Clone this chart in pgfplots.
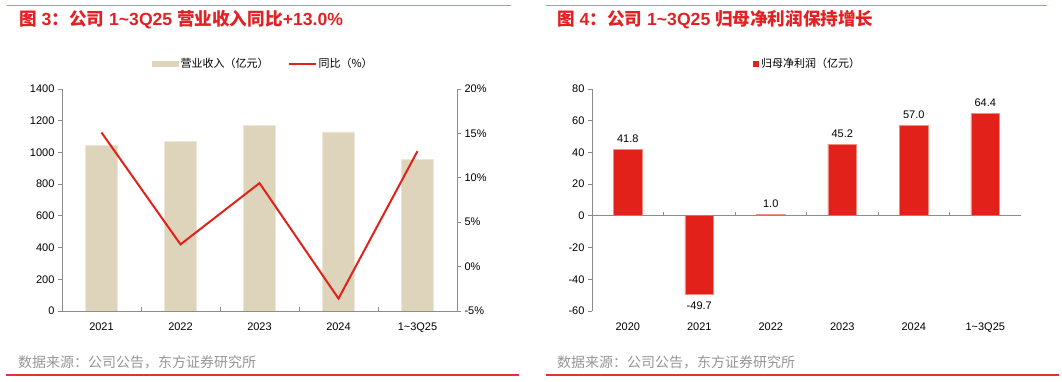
\documentclass[border=0pt]{standalone}
\usepackage{fontspec}
\setmainfont{Liberation Sans}
\newfontfamily\cjk{Noto Sans CJK SC}
\usepackage{pgfplots}
\pgfplotsset{compat=1.18}
\definecolor{beige}{RGB}{221,212,187}
\definecolor{beigeedge}{RGB}{236,230,214}
\definecolor{barred}{RGB}{226,34,26}
\definecolor{barrededge}{RGB}{242,140,130}
\definecolor{linered}{RGB}{226,34,26}
\definecolor{titlered}{RGB}{228,32,34}
\definecolor{toplinec}{RGB}{238,130,128}
\definecolor{botlinec}{RGB}{228,50,50}
\definecolor{footgray}{RGB}{150,150,150}
\definecolor{axisgray}{RGB}{140,140,140}
\pgfplotsset{
  common/.style={
    scale only axis, anchor=south west, height=222pt,
    axis line style={-, axisgray, line width=0.8pt},
    tick align=outside, tick style={axisgray, line width=0.8pt}, major tick length=4pt,
    ticklabel style={font=\fontsize{11}{13}\selectfont, text=black},
    /pgf/number format/assume math mode=true,
    /pgf/number format/1000 sep={},
    x tick label style={yshift=-4pt},
    major x tick style={draw=none},
    legend style={draw=none, fill=none, legend columns=-1, inner sep=0pt,
      font=\cjk\fontsize{11}{13}\selectfont, cells={anchor=west},
      /tikz/every even column/.append style={column sep=17pt}},
  }
}
\begin{document}
\begin{tikzpicture}
\path[use as bounding box] (0pt,0pt) rectangle (1062pt,382pt);
% header lines and titles
\draw[toplinec, line width=1.6pt] (7pt,376.3pt) -- (511pt,376.3pt);
\draw[toplinec, line width=1.6pt] (546pt,376.3pt) -- (1047pt,376.3pt);
\node[anchor=base west, inner sep=0pt, text=titlered, font=\bfseries\fontsize{17.6}{20}\selectfont] at (19pt,356pt)
  {{\cjk 图} 3{\cjk ：公司} 1\textasciitilde 3Q25 {\cjk 营业收入同比}+13.0\%};
\node[anchor=base west, inner sep=0pt, text=titlered, font=\bfseries\fontsize{17.6}{20}\selectfont] at (557pt,356pt)
  {{\cjk 图} 4{\cjk ：公司} 1\textasciitilde 3Q25 {\cjk 归母净利润保持增长}};
% footer
\node[anchor=west, inner sep=0pt, text=footgray, font=\cjk\fontsize{14}{16}\selectfont] at (18pt,20pt) {数据来源：公司公告，东方证券研究所};
\node[anchor=west, inner sep=0pt, text=footgray, font=\cjk\fontsize{14}{16}\selectfont] at (557pt,20pt) {数据来源：公司公告，东方证券研究所};
\draw[botlinec, line width=1.2pt] (6pt,7pt) -- (519pt,7pt);
\draw[botlinec, line width=1.2pt] (546pt,7pt) -- (1059pt,7pt);

% left chart: bars
\begin{axis}[common, at={(62pt,71pt)}, width=395pt,
  xmin=-0.5, xmax=4.5, ymin=0, ymax=1400, ytick={0,200,...,1400},
  axis y line*=left, axis x line*=bottom,
  xtick={0,...,4}, xticklabels={2021,2022,2023,2024,1\textasciitilde 3Q25},
  ybar, bar width=32pt]
\addplot[fill=beige, draw=beigeedge, line width=0.8pt] coordinates {(0,1042)(1,1070)(2,1171)(3,1129)(4,957)};
\pgfplotsinvokeforeach{0.5,1.5,2.5,3.5}{\draw[axisgray, line width=0.8pt] (axis cs:#1,0) -- ++(0pt,3.5pt);}
\end{axis}
% left chart: line
\begin{axis}[common, at={(62pt,71pt)}, width=395pt,
  xmin=-0.5, xmax=4.5, ymin=-5, ymax=20, ytick={-5,0,...,20},
  axis y line*=right, axis x line=none,
  yticklabel={\pgfmathprintnumber{\tick}\%},
  legend style={at={(0.51,1.113)}, anchor=center}]
\addlegendimage{legend image code/.code={\fill[beige] (0pt,-2.4pt) rectangle (26pt,2.4pt);}}
\addlegendentry{营业收入（亿元）}
\addplot[linered, line width=2pt, mark=none,
  legend image code/.code={\draw[linered, line width=2pt] (0pt,0pt) -- (27pt,0pt);}]
  coordinates {(0,15.1)(1,2.5)(2,9.4)(3,-3.6)(4,13.0)};
\addlegendentry{同比（\%）}
\end{axis}

% right chart
\begin{axis}[common, at={(592pt,71pt)}, width=429pt,
  xmin=-0.5, xmax=5.5, ymin=-60, ymax=80, ytick={-60,-40,...,80},
  axis y line*=left, axis x line*=bottom, x axis line style={draw=none},
  xtick={0,...,5}, xticklabels={2020,2021,2022,2023,2024,1\textasciitilde 3Q25},
  ybar, bar width=28.7pt,
  nodes near coords, nodes near coords align=vertical,
  every node near coord/.append style={font=\fontsize{11}{13}\selectfont, text=black, inner sep=6.5pt,
     /pgf/number format/.cd, fixed, fixed zerofill, precision=1, assume math mode=true},
  legend style={at={(0.503,1.113)}, anchor=center}]
\addplot[fill=barred, draw=barrededge, line width=0.8pt,
  legend image code/.code={\fill[barred] (0pt,-2.4pt) rectangle (5pt,2.4pt);}]
  coordinates {(0,41.8)(1,-49.7)(2,1.0)(3,45.2)(4,57.0)(5,64.4)};
\addlegendentry{归母净利润（亿元）}
\draw[axisgray, line width=0.8pt] (axis cs:-0.5,0) -- (axis cs:5.5,0);
\pgfplotsinvokeforeach{0.5,1.5,2.5,3.5,4.5}{\draw[axisgray, line width=0.8pt] (axis cs:#1,0) -- ++(0pt,3.5pt);}
\end{axis}
\end{tikzpicture}
\end{document}
